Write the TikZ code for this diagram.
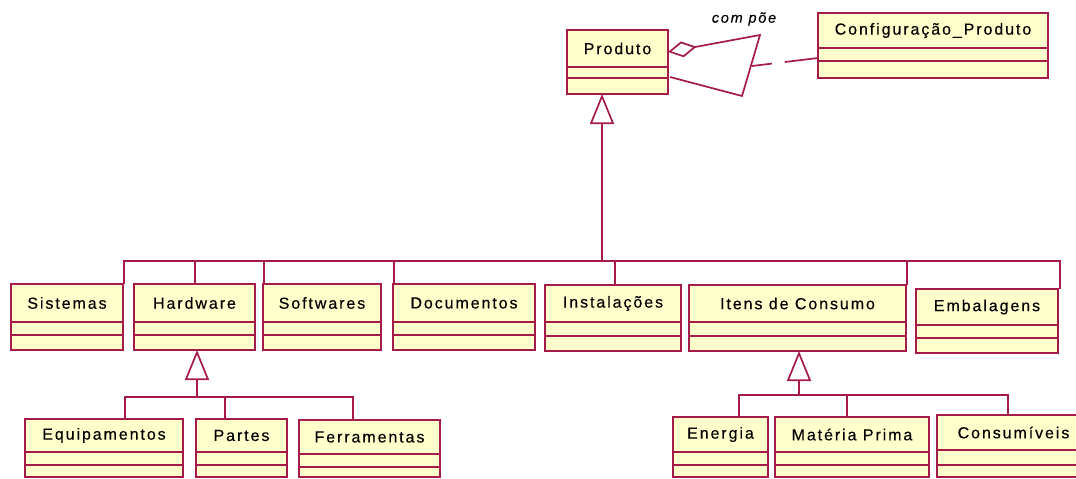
\documentclass[tikz,border=0pt]{standalone}
\usepackage{fontspec}
\setmainfont{Liberation Sans}[LetterSpace=12, FakeBold=0.3]
\usetikzlibrary{arrows.meta}
\definecolor{umlred}{RGB}{165,25,75}
\definecolor{umlfill}{RGB}{255,255,204}
% class box: name, x1, y1, x2, y2, divider1, divider2, title
\newcommand{\umlclass}[8]{%
  \node[umlbox, minimum width={(#4-#2)*1pt}, minimum height={(#5-#3)*1pt}] (#1) at ({(#2+#4)/2},{(#3+#5)/2}) {};
  \node[umltitle] (#1-t) at ({(#2+#4)/2},{(#3+#6)/2}) {#8};
  \draw[umlline] (#2,#6) -- (#4,#6) (#2,#7) -- (#4,#7);
}
\begin{document}
\begin{tikzpicture}[x=1pt, y=-1pt,
  umlline/.style={draw=umlred, line width=1.7pt},
  umlbox/.style={rectangle, draw=umlred, fill=umlfill, line width=1.7pt, inner sep=0pt, outer sep=0pt},
  umltitle/.style={rectangle, draw=none, inner sep=0pt, font=\fontsize{16}{19}\selectfont},
  gen/.style={-{Triangle[open, length=30pt, width=24pt]}},
  assoclabel/.style={rectangle, draw=none, inner sep=0pt, font=\fontsize{14.5}{17}\selectfont\itshape}]
\clip (0,0) rectangle (1076,479);
%%%%%%%%%%%%%%%%%%%%%%%%%%%%%%% classes
\umlclass{prod}{567}{30}{668}{94}{67}{78}{Produto}
\umlclass{config}{818}{13}{1048}{78}{48}{61}{Configuração\_Produto}
\umlclass{sist}{11}{284}{123}{350}{322}{335}{Sistemas}
\umlclass{hard}{134}{284}{255}{350}{322}{335}{Hardware}
\umlclass{soft}{263}{284}{381}{350}{322}{335}{Softwares}
\umlclass{docs}{393}{284}{535}{350}{322}{335}{Documentos}
\umlclass{inst}{545}{285}{681}{351}{322}{336}{Instalações}
\umlclass{itens}{689}{285}{906}{351}{322}{336}{Itens de Consumo}
\umlclass{emb}{916}{289}{1058}{353}{325}{338}{Embalagens}
\umlclass{equip}{25}{419}{183}{477}{452}{465}{Equipamentos}
\umlclass{partes}{196}{419}{287}{477}{452}{465}{Partes}
\umlclass{ferr}{299}{420}{440}{477}{454}{467}{Ferramentas}
\umlclass{ener}{673}{417}{768}{477}{452}{465}{Energia}
\umlclass{mat}{775}{417}{929}{477}{452}{465}{Matéria Prima}
\umlclass{cons}{937}{415}{1090}{477}{450}{465}{Consumíveis}

%%%%%%%%%%%%%%%%%%%%%%%%%%%%%%% composition
\coordinate (apex) at (760,35);
\coordinate (foot) at (742,96);
\coordinate (mid) at (752,66);
\node[assoclabel] (compoe) at (744,19) {com põe};
\draw[umlline, {Diamond[open, length=29pt, width=16pt]}-] ([yshift=10pt]prod.east) -- (apex) -- (foot) -- ([xshift=2pt, yshift=-15pt]prod.east);
\draw[umlline, dash pattern=on 20pt off 13pt on 60pt] (mid) -- ([yshift=-12.5pt]config.west);

%%%%%%%%%%%%%%%%%%%%%%%%%%%%%%% generalization of Produto
\coordinate (top) at (602,261);
\coordinate (t1) at (124,261);
\coordinate (t2) at (195,261);
\coordinate (t3) at (264,261);
\coordinate (t4) at (394,261);
\coordinate (t5) at (615,261);
\coordinate (t6) at (907,261);
\coordinate (t7) at (1060,261);
\draw[umlline, gen] (top) -- (top |- prod.south);
\draw[umlline] (t1 |- sist.north) -- (t1) -- (t7) -- (t7 |- emb.north);
\foreach \c/\n in {t2/hard, t3/soft, t4/docs, t5/inst, t6/itens}
  \draw[umlline] (\c) -- (\c |- \n.north);

%%%%%%%%%%%%%%%%%%%%%%%%%%%%%%% generalization of Hardware
\coordinate (hbus) at (197,397);
\coordinate (hb1) at (125,397);
\coordinate (hb2) at (225,397);
\coordinate (hb3) at (353,397);
\draw[umlline, gen] (hbus) -- (hbus |- hard.south);
\draw[umlline] (hb1 |- equip.north) -- (hb1) -- (hb3) -- (hb3 |- ferr.north);
\draw[umlline] (hb2) -- (hb2 |- partes.north);

%%%%%%%%%%%%%%%%%%%%%%%%%%%%%%% generalization of Itens de Consumo
\coordinate (ibus) at (799,395);
\coordinate (ib1) at (739,395);
\coordinate (ib2) at (847,395);
\coordinate (ib3) at (1008,395);
\draw[umlline, gen] (ibus) -- (ibus |- itens.south);
\draw[umlline] (ib1 |- ener.north) -- (ib1) -- (ib3) -- (ib3 |- cons.north);
\draw[umlline] (ib2) -- (ib2 |- mat.north);
\end{tikzpicture}
\end{document}
